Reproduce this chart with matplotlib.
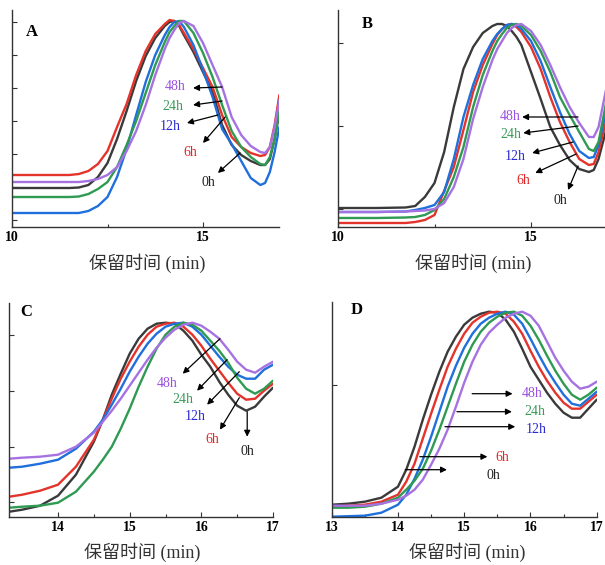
import matplotlib
matplotlib.use("Agg")
import matplotlib.pyplot as plt
from matplotlib.ticker import FixedLocator, NullFormatter

plt.rcParams['font.family'] = ['Liberation Serif', 'Noto Sans CJK SC', 'DejaVu Sans']

# ---------------- data (retention time in min, relative detector signal) ----------------
series_names = ['0h', '6h', '12h', '24h', '48h']
line_colors = ['#3a3a3a', '#e4332b', '#1f6fdc', '#2f9a52', '#a672e2']
label_colors = ['#222222', '#e02828', '#2a2ad0', '#3a9a5a', '#9a50e0']

A_x = [10, 11, 11.5, 11.75, 12, 12.25, 12.5, 12.75, 13, 13.25, 13.5, 13.75, 14, 14.125, 14.25,
       14.375, 14.5, 14.75, 15, 15.25, 15.5, 15.75, 16, 16.25, 16.5, 16.625, 16.75, 16.875, 17]
A_0h = [39, 39, 39, 39.5, 42, 50, 64, 88, 116, 146, 171, 189, 201, 205, 206, 201, 192, 175, 155,
        135, 102, 82, 72, 66, 62, 62, 68, 88, 115]
A_6h = [52, 52, 52, 53, 56, 63, 76, 100, 123, 152, 176, 193, 203, 207, 206, 202, 194, 178, 159,
        140, 112, 90, 80, 74, 71, 72, 80, 102, 132]
A_12h = [14, 14, 14, 14, 16, 21, 30, 50, 78, 112, 145, 172, 192, 200, 205, 206, 200, 182, 157,
         130, 98, 83, 66, 49, 42, 44, 55, 75, 100]
A_24h = [30, 30, 30, 30.5, 33, 38, 45, 60, 82, 106, 134, 162, 185, 195, 201, 206, 206, 194, 174,
         150, 122, 96, 80, 70, 63, 62, 70, 88, 116]
A_48h = [45, 45, 45, 45, 46, 48, 52, 60, 76, 96, 122, 152, 178, 189, 197, 204, 206, 201, 184,
         162, 140, 110, 92, 81, 75, 74, 80, 100, 127]

B_x = [10, 11, 11.75, 12, 12.25, 12.5, 12.75, 13, 13.25, 13.5, 13.75, 14, 14.125, 14.25, 14.375,
       14.5, 14.625, 14.75, 15, 15.25, 15.5, 15.75, 16, 16.25, 16.5, 16.625, 16.75, 17]
B_0h = [19, 19, 19.5, 21, 30, 44, 75, 120, 158, 180, 194, 201, 203, 203, 201, 196, 190, 182, 155,
        128, 100, 82, 67, 58, 55, 57, 68, 105]
B_6h = [4, 4, 4, 5, 7, 12, 36, 60, 97, 135, 162, 183, 192, 198, 202, 203, 200, 195, 180, 158,
        130, 105, 85, 68, 62, 63, 75, 115]
B_12h = [15, 15, 15.5, 17, 19, 22, 35, 68, 110, 142, 168, 186, 193, 198, 202, 203, 202, 198, 186,
         166, 140, 115, 93, 76, 69, 70, 82, 125]
B_24h = [9, 9, 9.5, 10, 12, 17, 28, 50, 80, 120, 152, 176, 186, 193, 199, 202, 203, 201, 192,
         176, 155, 130, 112, 95, 78, 76, 85, 135]
B_48h = [15, 15, 15.5, 16, 16.5, 18, 24, 40, 68, 108, 140, 167, 178, 186, 194, 199, 202, 203, 196,
         182, 162, 140, 120, 104, 90, 90, 100, 148]

C_x = [13.32, 13.5, 13.75, 14, 14.25, 14.5, 14.625, 14.75, 14.875, 15, 15.125, 15.25, 15.375,
       15.5, 15.625, 15.75, 15.875, 16, 16.125, 16.25, 16.375, 16.5, 16.625, 16.75, 16.875, 17]
C_0h = [5, 7, 11, 21, 42, 75, 97, 122, 143, 163, 178, 188, 193, 194, 193, 186, 176, 162, 150, 135,
        122, 111, 106, 110, 120, 129]
C_6h = [20, 22, 26, 32, 50, 77, 97, 118, 138, 155, 170, 182, 190, 193, 194, 190, 182, 171, 158,
        146, 134, 123, 117, 118, 126, 133]
C_12h = [49, 50, 53, 57, 68, 85, 97, 112, 128, 145, 160, 173, 183, 190, 193, 194, 190, 182, 171,
         160, 150, 142, 138, 138, 147, 152]
C_24h = [9, 10, 11, 14, 25, 45, 57, 70, 88, 108, 130, 150, 168, 182, 190, 194, 192, 186, 176, 166,
         154, 139, 128, 123, 128, 136]
C_48h = [58, 59, 60, 62, 70, 84, 95, 106, 118, 131, 144, 157, 169, 179, 187, 192, 194, 191, 185,
         178, 167, 155, 147, 144, 150, 155]

D_x = [13, 13.25, 13.5, 13.75, 14, 14.125, 14.25, 14.375, 14.5, 14.625, 14.75, 14.875, 15, 15.125,
       15.25, 15.375, 15.5, 15.625, 15.75, 15.875, 16, 16.125, 16.25, 16.375, 16.5, 16.625, 16.75,
       16.875, 17]
D_0h = [12, 13, 15, 19, 30, 47, 70, 97, 122, 145, 165, 180, 192, 199, 203, 205, 204, 197, 185, 168,
        150, 137, 124, 113, 104, 99, 99, 108, 117]
D_6h = [10, 11, 12, 15, 22, 35, 53, 78, 103, 127, 150, 168, 183, 194, 200, 204, 205, 203, 195, 183,
        166, 150, 136, 124, 114, 108, 108, 115, 122]
D_12h = [0, 0.5, 1, 4, 12, 22, 38, 57, 80, 105, 130, 151, 169, 183, 193, 199, 203, 205, 202, 193,
         178, 162, 147, 134, 122, 113, 111, 118, 125]
D_24h = [9, 9, 10, 13, 19, 27, 36, 48, 66, 87, 110, 133, 155, 172, 185, 194, 200, 204, 205, 201,
         191, 177, 161, 146, 133, 122, 117, 122, 129]
D_48h = [11, 11, 11, 13, 17, 21, 27, 37, 52, 68, 87, 110, 134, 155, 172, 184, 192, 199, 203, 205,
         201, 191, 175, 159, 146, 135, 128, 130, 135]

# annotation positions: (label text pos, arrow tail, arrow head) per series
A_ann = {'48h': ((14.27, 140), (15.50, 140), (14.74, 139)),
         '24h': ((14.21, 120), (15.50, 126), (14.74, 122)),
         '12h': ((14.14, 101), (15.39, 112), (14.58, 104)),
         '6h': ((14.66, 75), (15.58, 110), (15.00, 84)),
         '0h': ((15.13, 45), (15.97, 74), (15.39, 54))}
B_ann = {'48h': ((14.46, 110), (16.22, 110), (14.77, 110)),
         '24h': ((14.48, 92), (16.22, 101), (14.80, 94)),
         '12h': ((14.59, 70), (16.09, 85), (15.03, 74)),
         '6h': ((14.80, 47), (16.17, 73), (15.11, 54)),
         '0h': ((15.76, 27), (16.22, 61), (15.96, 37))}
C_ann = {'48h': ((15.52, 133), (16.26, 178), (15.74, 143)),
         '24h': ((15.74, 117), (16.36, 157), (15.94, 126)),
         '12h': ((15.91, 100), (16.53, 145), (16.08, 112)),
         '6h': ((16.15, 77), (16.53, 119), (16.26, 87)),
         '0h': ((16.65, 65), (16.64, 105), (16.64, 80))}
D_ann = {'48h': ((16.03, 123), (15.12, 123), (15.73, 123)),
         '24h': ((16.06, 105), (14.89, 105), (15.72, 105)),
         '12h': ((16.09, 87), (14.71, 90), (15.77, 90)),
         '6h': ((15.57, 59), (14.33, 60), (15.35, 60)),
         '0h': ((15.44, 41), (14.11, 47), (14.74, 47))}

# ---------------- figure ----------------
W, H = 605, 565
fig = plt.figure(figsize=(W / 100, H / 100), dpi=100)


def add_ax(left, right, bottom, top):
    return fig.add_axes([left / W, 1 - bottom / H, (right - left) / W, (bottom - top) / H])


panels = [
    dict(box=(12, 279.4, 227, 10), xlim=(10, 17), ylim=(0, 217), x=A_x,
         ys=[A_0h, A_6h, A_12h, A_24h, A_48h], ann=A_ann,
         xmaj=[10, 15], xmin=[12.5], yt=[7, 40, 73, 106, 139, 172, 205],
         letter='A', lpos=(32, 32), xl=(147, 263)),
    dict(box=(338, 608.2, 227, 10), xlim=(10, 17), ylim=(0, 217), x=B_x,
         ys=[B_0h, B_6h, B_12h, B_24h, B_48h], ann=B_ann,
         xmaj=[10, 15], xmin=[12.5], yt=[18, 101, 184],
         letter='B', lpos=(367, 24), xl=(473, 263)),
    dict(box=(9, 273, 516.7, 303), xlim=(13.316, 17), ylim=(0, 213.7), x=C_x,
         ys=[C_0h, C_6h, C_12h, C_24h, C_48h], ann=C_ann,
         xmaj=[14, 15, 16, 17], xmin=[14.5, 15.5, 16.5], yt=[15, 70, 126, 182],
         letter='C', lpos=(26, 312), xl=(142, 552)),
    dict(box=(331.7, 596.7, 516.7, 302), xlim=(13, 17), ylim=(0, 214.7), x=D_x,
         ys=[D_0h, D_6h, D_12h, D_24h, D_48h], ann=D_ann,
         xmaj=[13, 14, 15, 16, 17], xmin=[13.5, 14.5, 15.5, 16.5], yt=[131.7],
         letter='D', lpos=(357, 310), xl=(467, 552)),
]

for p in panels:
    ax = add_ax(*p['box'])
    ax.set_xlim(*p['xlim'])
    ax.set_ylim(*p['ylim'])
    for ys, c in zip(p['ys'], line_colors):
        ax.plot(p['x'], ys, color=c, lw=1.7, solid_joinstyle='round',
                solid_capstyle='round', clip_on=True)
    for name, c in zip(series_names, label_colors):
        (tx, ty), tail, head = p['ann'][name]
        ax.annotate('', xy=head, xytext=tail,
                    arrowprops=dict(arrowstyle='-|>', color='black', lw=0.9,
                                    mutation_scale=9, shrinkA=0, shrinkB=0))
        ax.text(tx, ty, name, color=c, fontsize=10, ha='center', va='center')
    for s in ['top', 'right']:
        ax.spines[s].set_visible(False)
    for s in ['left', 'bottom']:
        ax.spines[s].set_color('#333333')
        ax.spines[s].set_linewidth(1.0)
    ax.xaxis.set_major_locator(FixedLocator(p['xmaj']))
    ax.xaxis.set_minor_locator(FixedLocator(p['xmin']))
    ax.yaxis.set_major_locator(FixedLocator(p['yt']))
    ax.yaxis.set_major_formatter(NullFormatter())
    ax.set_xticklabels([str(v) for v in p['xmaj']], fontweight='bold', fontsize=10)
    ax.tick_params(axis='both', which='major', direction='in', length=3.5, width=0.8,
                   color='#333333', pad=3)
    ax.tick_params(axis='x', which='minor', direction='in', length=2.5, width=0.8,
                   color='#333333')
    ax.patch.set_alpha(0)
    fig.text(p['lpos'][0] / W, 1 - p['lpos'][1] / H, p['letter'], fontsize=12,
             fontweight='bold', ha='center', va='center')
    fig.text(p['xl'][0] / W, 1 - p['xl'][1] / H, '保留时间 (min)', fontsize=13,
             ha='center', va='center', color='#333333')

fig.savefig('out.png', dpi=100)
